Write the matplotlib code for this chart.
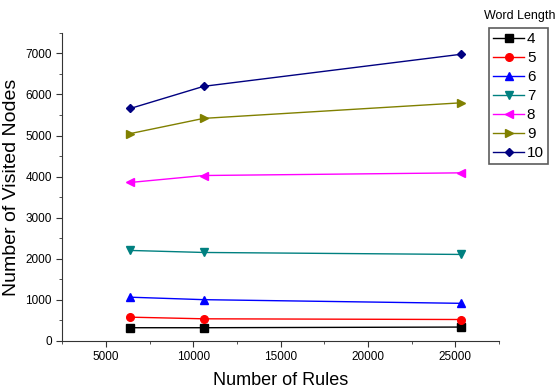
import matplotlib
matplotlib.use('Agg')
import matplotlib.pyplot as plt
from matplotlib.ticker import MultipleLocator

plt.rcParams['font.family'] = ['Liberation Sans', 'DejaVu Sans']

# number of rules on the x axis
rules = [6400, 10600, 25300]

# visited nodes per word length
word_lengths = ['4', '5', '6', '7', '8', '9', '10']
nodes_4 = [322, 322, 338]
nodes_5 = [579, 539, 522]
nodes_6 = [1065, 1005, 916]
nodes_7 = [2203, 2154, 2106]
nodes_8 = [3858, 4027, 4092]
nodes_9 = [5048, 5418, 5796]
nodes_10 = [5659, 6198, 6977]

series = [nodes_4, nodes_5, nodes_6, nodes_7, nodes_8, nodes_9, nodes_10]
colors = ['black', 'red', 'blue', '#008080', 'magenta', '#808000', '#000080']
markers = ['s', 'o', '^', 'v', '<', '>', 'D']

fig = plt.figure(figsize=(5.6, 3.91), dpi=100)
ax = fig.add_axes([0.111, 0.128, 0.78, 0.788])

for name, vals, c, m in zip(word_lengths, series, colors, markers):
  ms = 4.5 if m == 'D' else 5.5
  ax.plot(rules, vals, color=c, marker=m, markersize=ms, linewidth=1, label=name)

ax.set_xlim(2500, 27500)
ax.set_ylim(0, 7500)
ax.xaxis.set_major_locator(MultipleLocator(5000))
ax.xaxis.set_minor_locator(MultipleLocator(2500))
ax.yaxis.set_major_locator(MultipleLocator(1000))
ax.yaxis.set_minor_locator(MultipleLocator(500))

for side in ['top', 'right']:
  ax.spines[side].set_visible(False)
for side in ['left', 'bottom']:
  ax.spines[side].set_color('#333333')
ax.tick_params(which='major', direction='out', length=4, labelsize=8.5, color='#333333')
ax.tick_params(which='minor', direction='out', length=2.5, color='#333333')

ax.set_xlabel('Number of Rules', fontsize=13, labelpad=6)
ax.set_ylabel('Number of Visited Nodes', fontsize=14, labelpad=4)

leg = ax.legend(loc='upper left', bbox_to_anchor=(0.874, 0.928), bbox_transform=fig.transFigure,
                fontsize=11, numpoints=1, handlelength=2.0, handletextpad=0.2,
                labelspacing=0.33, borderpad=0.25, borderaxespad=0,
                frameon=True, fancybox=False)
leg.get_frame().set_edgecolor('#333333')
leg.get_frame().set_linewidth(1.2)
fig.text(0.928, 0.96, 'Word Length', fontsize=9, ha='center', va='center')

plt.savefig('out.png', dpi=100)
